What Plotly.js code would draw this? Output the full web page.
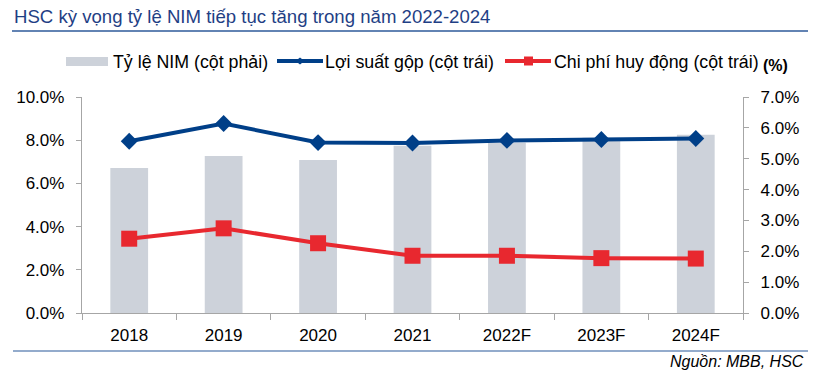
<!DOCTYPE html>
<html>
<head>
<meta charset="utf-8">
<script src="https://cdn.plot.ly/plotly-3.0.1.min.js"></script>
<style>html,body{margin:0;padding:0;background:#fff;}#chart{width:820px;height:376px;}</style>
</head>
<body>
<div id="chart"></div>
<script>
// ---- data ----
const categories = ["2018", "2019", "2020", "2021", "2022F", "2023F", "2024F"];
const nimRatio = [4.70, 5.09, 4.96, 5.42, 5.52, 5.68, 5.78];      // Tỷ lệ NIM (cột phải), %
const grossYield = [7.95, 8.77, 7.89, 7.87, 7.99, 8.03, 8.08];    // Lợi suất gộp (cột trái), %
const fundingCost = [3.44, 3.92, 3.23, 2.65, 2.65, 2.54, 2.52];   // Chi phí huy động (cột trái), %
const leftTicks = [0, 2, 4, 6, 8, 10];
const leftTickText = ["0.0%", "2.0%", "4.0%", "6.0%", "8.0%", "10.0%"];
const rightTicks = [0, 1, 2, 3, 4, 5, 6, 7];
const rightTickText = ["0.0%", "1.0%", "2.0%", "3.0%", "4.0%", "5.0%", "6.0%", "7.0%"];
const seriesNames = ["Tỷ lệ NIM (cột phải)", "Lợi suất gộp (cột trái)", "Chi phí huy động (cột trái)"];
const titleText = "HSC kỳ vọng tỷ lệ NIM tiếp tục tăng trong năm 2022-2024";
const sourceText = "Nguồn: MBB, HSC";

// ---- geometry helpers (pixel -> paper) ----
const W = 820, H = 376;
const L = 82, R = 743, T = 97, B = 313;
const px = x => (x - L) / (R - L);
const py = y => (B - y) / (B - T);

const FONT = "Liberation Sans, Arial, sans-serif";
const BLUE = "#003f88", RED = "#e8282f", GRAY = "#cdd2da", AXIS = "#a6a6a6";

const traces = [
  {type: "bar", x: categories, y: nimRatio, name: seriesNames[0], yaxis: "y",
   marker: {color: GRAY}, width: 0.4, hoverinfo: "skip"},
  {type: "scatter", mode: "lines+markers", x: categories, y: grossYield, name: seriesNames[1], yaxis: "y2",
   line: {color: BLUE, width: 4}, marker: {symbol: "diamond", size: 13, color: BLUE}},
  {type: "scatter", mode: "lines+markers", x: categories, y: fundingCost, name: seriesNames[2], yaxis: "y2",
   line: {color: RED, width: 4}, marker: {symbol: "square", size: 16, color: RED}}
];

function diamond(cx, cy, hw, hh) {
  return `M${px(cx - hw)},${py(cy)} L${px(cx)},${py(cy - hh)} L${px(cx + hw)},${py(cy)} L${px(cx)},${py(cy + hh)} Z`;
}
function rect(x0, y0, x1, y1, color) {
  return {type: "rect", xref: "paper", yref: "paper", x0: px(x0), x1: px(x1), y0: py(y1), y1: py(y0),
    fillcolor: color, line: {width: 0}};
}
function hline(x0, x1, y, color, width) {
  return {type: "line", xref: "paper", yref: "paper", x0: px(x0), x1: px(x1), y0: py(y), y1: py(y),
    line: {color: color, width: width}};
}

const shapes = [
  hline(12, 808, 31, "#2e5a9a", 1.5),
  hline(13, 808, 351, "#6f8fbb", 1.5),
  rect(66, 57, 108, 66, GRAY),
  hline(277, 323, 61, BLUE, 4),
  {type: "path", xref: "paper", yref: "paper", path: diamond(300, 61, 4.5, 3.5), fillcolor: BLUE, line: {width: 0}},
  hline(505, 551, 61, RED, 4),
  rect(524, 56.5, 533, 65.5, RED)
];

const annFont = {family: FONT, size: 17.8, color: "#000"};
const annotations = [
  {xref: "paper", yref: "paper", x: px(12), y: py(16), xanchor: "left", yanchor: "middle", showarrow: false,
   text: titleText, font: {family: FONT, size: 18.6, color: "#1f3f85"}},
  {xref: "paper", yref: "paper", x: px(111), y: py(62), xanchor: "left", yanchor: "middle", showarrow: false,
   text: seriesNames[0], font: annFont},
  {xref: "paper", yref: "paper", x: px(323), y: py(62), xanchor: "left", yanchor: "middle", showarrow: false,
   text: seriesNames[1], font: annFont},
  {xref: "paper", yref: "paper", x: px(552), y: py(62), xanchor: "left", yanchor: "middle", showarrow: false,
   text: seriesNames[2], font: annFont},
  {xref: "paper", yref: "paper", x: px(761), y: py(66), xanchor: "left", yanchor: "middle", showarrow: false,
   text: "<b>(%)</b>", font: {family: FONT, size: 16, color: "#000"}},
  {xref: "paper", yref: "paper", x: px(806), y: py(361), xanchor: "right", yanchor: "middle", showarrow: false,
   text: "<i>" + sourceText + "</i>", font: {family: FONT, size: 16, color: "#000"}}
];

const tickFont = {family: FONT, size: 17, color: "#000"};
const layout = {
  width: W, height: H,
  margin: {l: L, r: W - R, t: T, b: H - B, pad: 0},
  paper_bgcolor: "#fff", plot_bgcolor: "#fff",
  showlegend: false,
  font: {family: FONT, size: 17, color: "#000"},
  xaxis: {type: "category", showline: true, linecolor: AXIS, linewidth: 1.2, ticks: "outside", tickson: "boundaries",
    ticklen: 6, tickcolor: AXIS, showgrid: false, zeroline: false, tickfont: tickFont, ticklabelstandoff: 6},
  yaxis: {side: "right", range: [0, 7], tickmode: "array", tickvals: rightTicks, ticktext: rightTickText,
    showline: true, linecolor: AXIS, linewidth: 1.2, ticks: "outside", ticklen: 5, tickcolor: AXIS,
    showgrid: false, zeroline: false, tickfont: tickFont, ticklabelstandoff: 8},
  yaxis2: {overlaying: "y", side: "left", range: [0, 10], tickmode: "array", tickvals: leftTicks, ticktext: leftTickText,
    showline: true, linecolor: AXIS, linewidth: 1.2, ticks: "outside", ticklen: 5, tickcolor: AXIS,
    showgrid: false, zeroline: false, tickfont: tickFont, ticklabelstandoff: 8},
  shapes: shapes,
  annotations: annotations
};

Plotly.newPlot("chart", traces, layout, {displayModeBar: false, staticPlot: true});
</script>
</body>
</html>
